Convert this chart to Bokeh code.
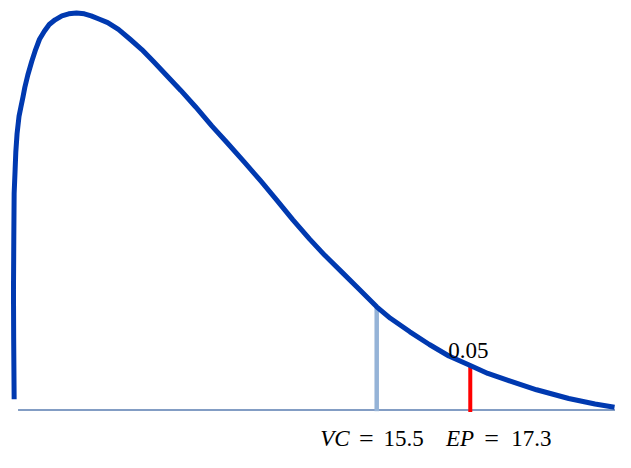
from bokeh.plotting import figure
from bokeh.models import Range1d
from bokeh.embed import file_html
from bokeh.resources import INLINE
from bokeh.core.properties import value

# Curve (x in statistic units, y in density units)
curve_x = [8.525, 8.516, 8.512, 8.518, 8.525, 8.544, 8.557, 8.581, 8.619, 8.656,
           8.694, 8.731, 8.788, 8.863, 8.938, 9.013, 9.106, 9.200, 9.313, 9.444,
           9.575, 9.725, 9.875, 10.006, 10.156, 10.325, 10.531, 10.756, 10.981,
           11.206, 11.450, 11.731, 12.013, 12.331, 12.631, 12.950, 13.269,
           13.569, 13.888, 14.206, 14.506, 14.825, 15.163, 15.500, 15.763,
           16.138, 16.513, 16.888, 17.300, 17.638, 18.013, 18.575, 19.194,
           19.700, 20.075]
curve_y = [0.0027, 0.0180, 0.0302, 0.0423, 0.0545, 0.0606, 0.0650, 0.0696,
           0.0740, 0.0764, 0.0788, 0.0813, 0.0844, 0.0878, 0.0908, 0.0934,
           0.0954, 0.0971, 0.0983, 0.0993, 0.0998, 0.1000, 0.0998, 0.0993,
           0.0985, 0.0976, 0.0959, 0.0934, 0.0908, 0.0878, 0.0844, 0.0805,
           0.0764, 0.0715, 0.0672, 0.0625, 0.0577, 0.0530, 0.0479, 0.0431,
           0.0389, 0.0348, 0.0304, 0.0260, 0.0231, 0.0197, 0.0165, 0.0136,
           0.0112, 0.0092, 0.0075, 0.0051, 0.0029, 0.0015, 0.0007]

vc_value = 15.5
ep_value = 17.3
vc_top = 0.0260
ep_top = 0.0112
alpha_label = "0.05"
axis_start = 8.6
axis_end = 20.1

W, H = 615, 452
p = figure(width=W, height=H, output_backend="svg", toolbar_location=None,
           x_range=Range1d(8.2625, 20.09375),
           y_range=Range1d(-0.010706, 0.10316),
           min_border=0, min_border_left=0, min_border_right=0,
           min_border_top=0, min_border_bottom=0)
p.axis.visible = False
p.grid.visible = False
p.outline_line_color = None
p.background_fill_color = "white"
p.border_fill_color = "white"

# baseline
p.line([axis_start, axis_end], [0, 0], line_color="#5A7DB0", line_width=1.5)
# critical value line
p.line([vc_value, vc_value], [-0.0003, vc_top], line_color="#95B3D7", line_width=4.5)
# test statistic line
p.line([ep_value, ep_value], [-0.0005, ep_top], line_color="#FF0000", line_width=4)
# density curve
p.line(curve_x, curve_y, line_color="#0039B0", line_width=5, line_join="round")

serif = value("Liberation Serif")
fs = value("23px")
yb = -0.0072
p.text(x=[17.2625], y=[0.0151], text=[alpha_label], text_font=serif,
       text_font_size=fs, text_align="center", text_baseline="alphabetic",
       text_color="black")
p.text(x=[14.4125, 16.831], y=[yb, yb], text=["VC", "EP"], text_font=serif,
       text_font_style="italic", text_font_size=fs, text_align="left",
       text_baseline="alphabetic", text_color="black")
p.text(x=[15.30, 17.71], y=[yb, yb], text=["=", "="], text_font=serif,
       text_font_size=value("26px"), text_align="center", text_baseline="alphabetic",
       text_color="black")
p.text(x=[15.631, 18.0875], y=[yb, yb], text=[str(vc_value), str(ep_value)],
       text_font=serif, text_font_size=fs, text_align="left",
       text_baseline="alphabetic", text_color="black")

open("out.html", "w").write(file_html(p, INLINE))
